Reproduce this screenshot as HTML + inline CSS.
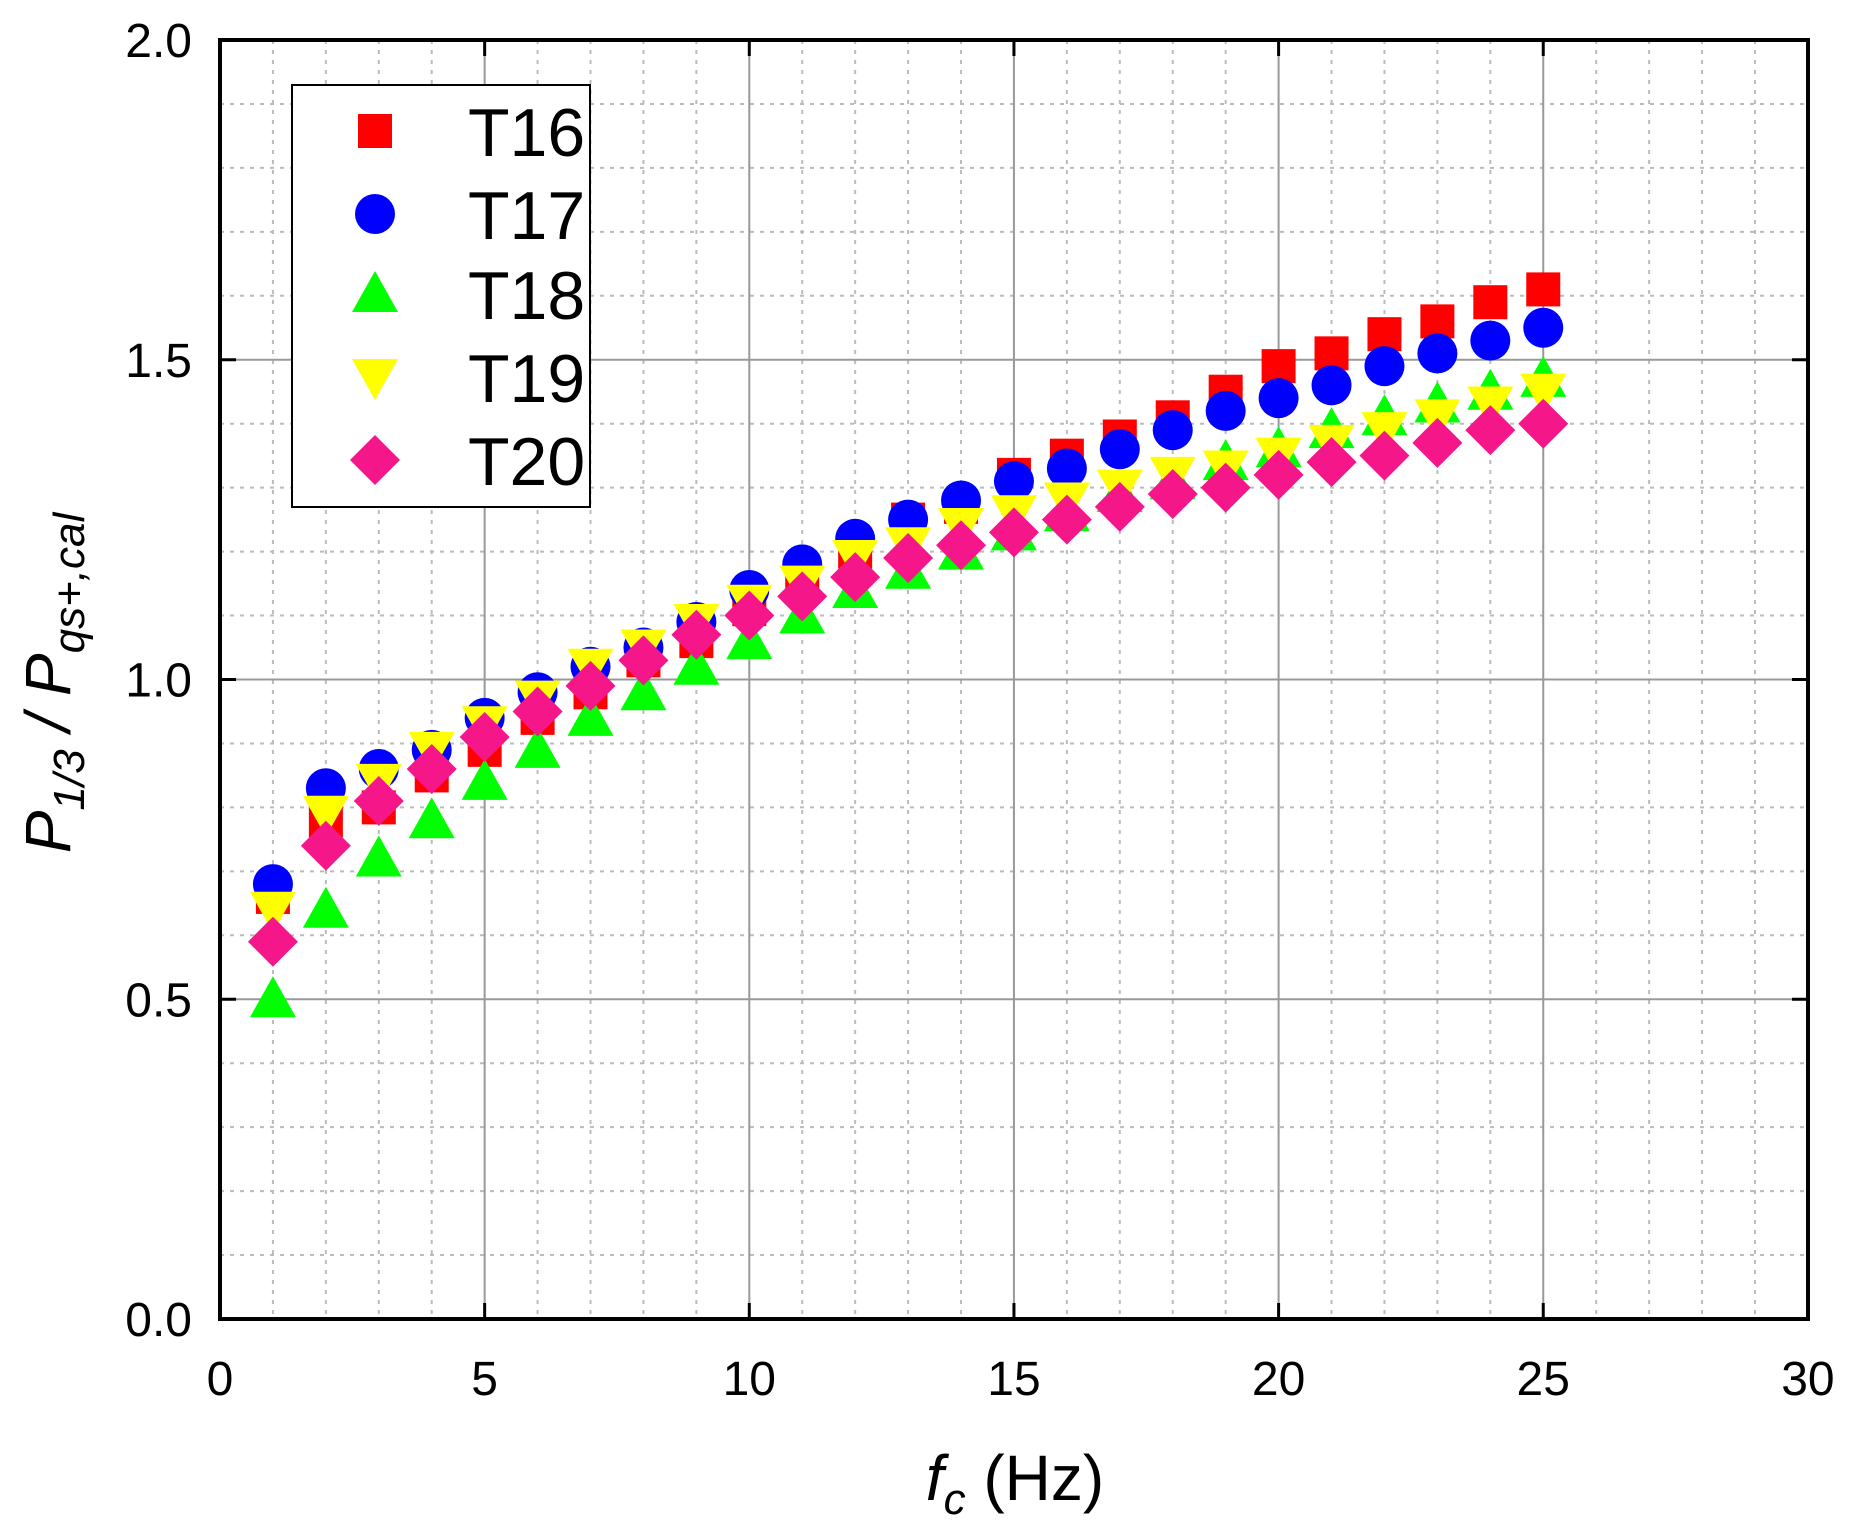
<!DOCTYPE html>
<html><head><meta charset="utf-8"><style>
html,body{margin:0;padding:0;background:#fff;}
svg{display:block;}
text{font-family:"Liberation Sans",Arial,sans-serif;}
</style></head><body>
<svg id="s" width="1855" height="1539" viewBox="0 0 1855 1539" xmlns="http://www.w3.org/2000/svg">
<rect width="1855" height="1539" fill="#fff"/>
<g id="grid"></g>
<g id="data"></g>
<rect x="220" y="40" width="1588" height="1279" fill="none" stroke="#000" stroke-width="4"/>
<g id="ticks"></g>
<g id="labels" font-size="48" fill="#000"></g>
<text x="1015" y="1500" font-size="64" text-anchor="middle"><tspan font-style="italic">f</tspan><tspan font-style="italic" font-size="44" dy="14">c</tspan><tspan dy="-14"> (Hz)</tspan></text>
<text transform="translate(70,683) rotate(-90)" font-size="64" text-anchor="middle" font-style="italic">P<tspan font-size="44" dy="14">1/3</tspan><tspan dy="-14"> / P</tspan><tspan font-size="44" dy="14">qs+,cal</tspan></text>
<rect x="292" y="85" width="298" height="422" fill="#fff" stroke="#000" stroke-width="2"/>
<g id="legend" font-size="68"></g>
</svg>
<script>
const NS="http://www.w3.org/2000/svg";
const X=v=>220+v*52.93, Y=v=>1319-v*639.5;
function el(p,t,a,txt){const e=document.createElementNS(NS,t);for(const k in a)e.setAttribute(k,a[k]);if(txt!==undefined)e.textContent=txt;document.getElementById(p).appendChild(e);return e;}
for(let i=1;i<30;i++){if(i%5)el('grid','line',{x1:X(i),x2:X(i),y1:40,y2:1319,stroke:'#bbb','stroke-width':2,'stroke-dasharray':'4 6'});}
for(let i=1;i<20;i++){if(i%5)el('grid','line',{x1:220,x2:1808,y1:Y(i/10),y2:Y(i/10),stroke:'#bbb','stroke-width':2,'stroke-dasharray':'4 6'});}
for(let i=5;i<30;i+=5)el('grid','line',{x1:X(i),x2:X(i),y1:40,y2:1319,stroke:'#999','stroke-width':2});
for(let v of [0.5,1,1.5])el('grid','line',{x1:220,x2:1808,y1:Y(v),y2:Y(v),stroke:'#999','stroke-width':2});
for(let i=0;i<=30;i+=5){el('ticks','line',{x1:X(i),x2:X(i),y1:1319,y2:1303,stroke:'#000','stroke-width':3});el('ticks','line',{x1:X(i),x2:X(i),y1:40,y2:56,stroke:'#000','stroke-width':3});
 el('labels','text',{x:X(i),y:1395,'text-anchor':'middle'},String(i));}
for(let v of [0,0.5,1,1.5,2]){el('ticks','line',{x1:220,x2:236,y1:Y(v),y2:Y(v),stroke:'#000','stroke-width':3});el('ticks','line',{x1:1792,x2:1808,y1:Y(v),y2:Y(v),stroke:'#000','stroke-width':3});
 el('labels','text',{x:192,y:Y(v)+17,'text-anchor':'end'},v.toFixed(1));}
const D={
T16:[0.66,0.78,0.80,0.85,0.89,0.94,0.98,1.03,1.06,1.11,1.16,1.20,1.25,1.27,1.32,1.35,1.38,1.41,1.45,1.49,1.51,1.54,1.56,1.59,1.61],
T17:[0.68,0.83,0.86,0.89,0.94,0.98,1.02,1.05,1.09,1.14,1.18,1.22,1.25,1.28,1.31,1.33,1.36,1.39,1.42,1.44,1.46,1.49,1.51,1.53,1.55],
T18:[0.50,0.64,0.72,0.78,0.84,0.89,0.94,0.98,1.02,1.06,1.10,1.14,1.17,1.20,1.23,1.26,1.29,1.31,1.34,1.36,1.39,1.41,1.43,1.45,1.47],
T19:[0.64,0.79,0.84,0.89,0.93,0.97,1.02,1.05,1.09,1.12,1.15,1.19,1.21,1.24,1.26,1.28,1.30,1.32,1.33,1.35,1.37,1.39,1.41,1.43,1.45],
T20:[0.59,0.74,0.81,0.86,0.91,0.95,0.99,1.03,1.07,1.10,1.13,1.16,1.19,1.21,1.23,1.25,1.27,1.29,1.30,1.32,1.34,1.35,1.37,1.39,1.40]};
function mk(p,k,x,y){
 if(k=='T16')el(p,'rect',{x:x-17,y:y-17,width:34,height:34,fill:'#f00'});
 else if(k=='T17')el(p,'circle',{cx:x,cy:y,r:20,fill:'#00f'});
 else if(k=='T18')el(p,'polygon',{points:`${x},${y-23} ${x+23},${y+18} ${x-23},${y+18}`,fill:'#0f0'});
 else if(k=='T19')el(p,'polygon',{points:`${x},${y+23} ${x+23},${y-18} ${x-23},${y-18}`,fill:'#ff0'});
 else el(p,'polygon',{points:`${x},${y-25} ${x+25},${y} ${x},${y+25} ${x-25},${y}`,fill:'#f5168a'});
}
const ks=['T16','T17','T18','T19','T20'];
ks.forEach(k=>D[k].forEach((v,i)=>mk('data',k,X(i+1),Y(v))));
const ly=[131,214,294,377,460];
ks.forEach((k,i)=>{mk('legend',k,375,ly[i]);el('legend','text',{x:468,y:ly[i]+25},k);});
</script>
</body></html>
